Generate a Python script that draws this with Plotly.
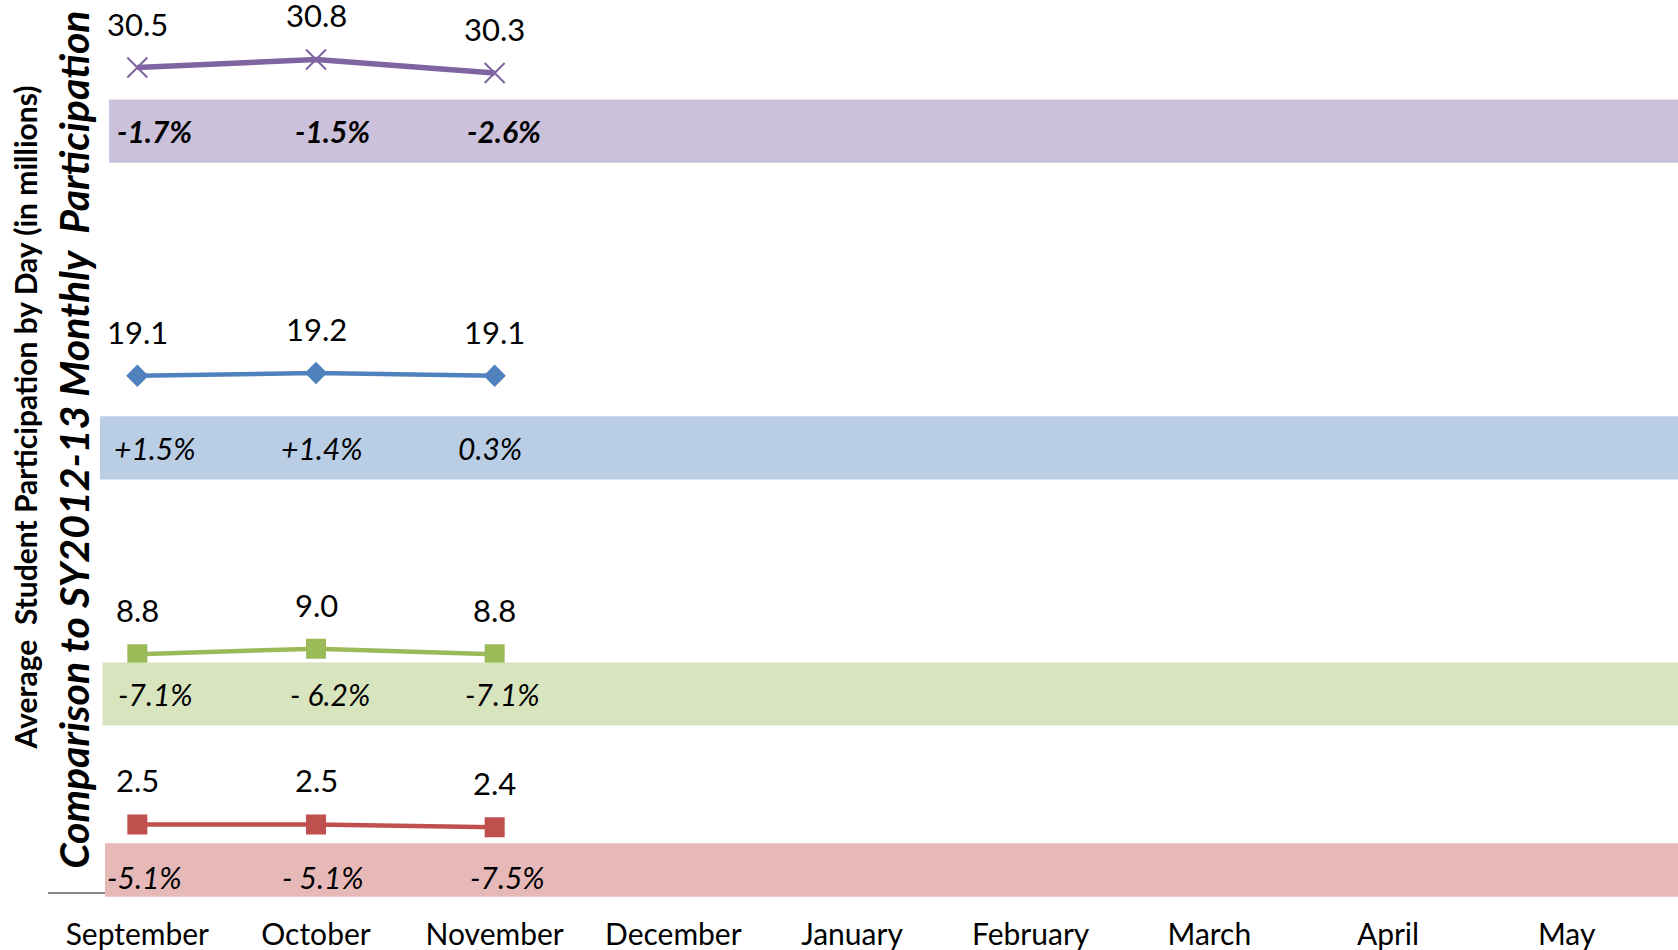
import plotly.graph_objects as go

months = ["September", "October", "November", "December", "January",
          "February", "March", "April", "May"]
shown_months = ["September", "October", "November"]

# average daily participation (millions), top series first
purple_vals = [30.5, 30.8, 30.3]
blue_vals = [19.1, 19.2, 19.1]
green_vals = [8.8, 9.0, 8.8]
red_vals = [2.5, 2.5, 2.4]

# change vs SY2012-13
purple_pct = ["-1.7%", "-1.5%", "-2.6%"]
blue_pct = ["+1.5%", "+1.4%", "0.3%"]
green_pct = ["-7.1%", "- 6.2%", "-7.1%"]
red_pct = ["-5.1%", "- 5.1%", "-7.5%"]

# comparison band extents (in millions, y axis units)
purple_band = [26.98, 29.32]
blue_band = [15.26, 17.60]
green_band = [6.16, 8.49]
red_band = [-0.18, 1.80]

Y_MAX = 33
FONT = "Lato"

series = [
    dict(vals=purple_vals, pct=purple_pct, band=purple_band, line="#8064A2",
         fill="#CCC1DA", symbol="x-thin-open", msize=20, lw=5.5, bold=True,
         xs=[17, 16, 9], ys=0, band_x=109),
    dict(vals=blue_vals, pct=blue_pct, band=blue_band, line="#4F81BD",
         fill="#B9CDE5", symbol="diamond", msize=15, lw=4.5, bold=False,
         xs=[18, 6, -5], ys=0, band_x=100),
    dict(vals=green_vals, pct=green_pct, band=green_band, line="#9BBB59",
         fill="#D7E4BD", symbol="square", msize=18, lw=4.5, bold=False,
         xs=[18, 14, 8], ys=0, band_x=102.5),
    dict(vals=red_vals, pct=red_pct, band=red_band, line="#C0504D",
         fill="#E6B9B8", symbol="square", msize=18, lw=4.5, bold=False,
         xs=[7, 7, 13], ys=-7, band_x=105),
]

W, H = 1678, 950
ML, MR, MT, MB = 48, 22, 0, 58
plot_w = W - ML - MR

fig = go.Figure()
# invisible trace so all months appear on the category axis
fig.add_trace(go.Scatter(x=months, y=[None] * len(months), mode="lines",
                         showlegend=False, hoverinfo="skip"))

shapes = []
annotations = []
for s in series:
    fig.add_trace(go.Scatter(
        x=shown_months, y=s["vals"], mode="lines+markers",
        line=dict(color=s["line"], width=s["lw"]),
        marker=dict(symbol=s["symbol"], size=s["msize"], color=s["line"],
                    line=dict(color=s["line"], width=2)),
        showlegend=False, cliponaxis=False))
    # band drawn in paper units (y axis range starts at 0) so it is not clipped
    shapes.append(dict(type="rect", xref="paper", yref="paper",
                       x0=(s["band_x"] - ML) / plot_w, x1=(W - ML) / plot_w,
                       y0=s["band"][0] / Y_MAX, y1=s["band"][1] / Y_MAX,
                       fillcolor=s["fill"], line=dict(width=0), layer="above"))
    for m, v in zip(shown_months, s["vals"]):
        annotations.append(dict(x=m, y=v, xref="x", yref="y", text=f"{v:.1f}",
                                showarrow=False, yshift=44,
                                font=dict(family=FONT, size=31, color="black")))
    mid = (s["band"][0] + s["band"][1]) / 2
    for m, t, xs in zip(shown_months, s["pct"], s["xs"]):
        txt = f"<i>{t}</i>"
        if s["bold"]:
            txt = f"<b>{txt}</b>"
        annotations.append(dict(x=m, y=mid, xref="x", yref="y", text=txt,
                                showarrow=False, xshift=xs, yshift=s["ys"],
                                font=dict(family=FONT, size=30, color="black")))

annotations.append(dict(
    xref="paper", yref="paper", x=(25 - ML) / plot_w, y=0.532,
    text="<b>Average\u00a0 Student Participation by Day (in millions)</b>",
    textangle=-90, showarrow=False, xanchor="center", yanchor="middle",
    font=dict(family=FONT, size=30, color="black")))
annotations.append(dict(
    xref="paper", yref="paper", x=(74 - ML) / plot_w, y=0.507,
    text="<b><i>Comparison to SY2012-13 Monthly\u00a0 Participation</i></b>",
    textangle=-90, showarrow=False, xanchor="center", yanchor="middle",
    font=dict(family=FONT, size=41, color="black")))

fig.update_layout(
    width=W, height=H,
    margin=dict(l=ML, r=MR, t=MT, b=MB, pad=0),
    plot_bgcolor="white", paper_bgcolor="white",
    shapes=shapes, annotations=annotations,
    xaxis=dict(type="category", categoryorder="array", categoryarray=months,
               range=[-0.5, len(months) - 0.5], showgrid=False, zeroline=False,
               showline=True, linecolor="#868686", linewidth=2, ticks="",
               tickfont=dict(family=FONT, size=30, color="black"),
               ticklabelstandoff=15),
    yaxis=dict(range=[0, Y_MAX], visible=False, fixedrange=True),
)

fig.write_html("out.html", config={"displayModeBar": False},
               post_script="document.body.style.margin='0';"
                           "document.body.style.overflow='hidden';")
